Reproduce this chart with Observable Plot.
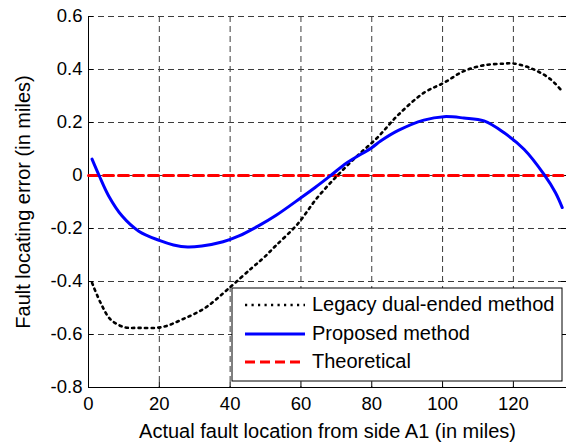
<!DOCTYPE html>
<html>
<head>
<meta charset="utf-8">
<script src="https://cdn.jsdelivr.net/npm/d3@7"></script>
<script src="https://cdn.jsdelivr.net/npm/@observablehq/plot@0.6"></script>
<style>
  html, body { margin: 0; padding: 0; background: #fff; }
  svg { display: block; }
</style>
</head>
<body>
<div id="chart"></div>
<script>
const xTicks = [0, 20, 40, 60, 80, 100, 120];
const yTicks = [-0.8, -0.6, -0.4, -0.2, 0, 0.2, 0.4, 0.6];
const xLabel = "Actual fault location from side A1 (in miles)";
const yLabel = "Fault locating error (in miles)";
const seriesNames = ["Legacy dual-ended method", "Proposed method", "Theoretical"];

const legacyX = [1, 3.4, 6.2, 10, 14, 20.8, 26.5, 33, 39.6, 46.2, 49.5, 52.8, 59, 64.6, 70.3, 75.9, 81.6, 87.2, 94.7, 100.4, 106, 111.7, 117.3, 120, 125.8, 130.5, 133.3];
const legacyY = [-0.405, -0.48, -0.543, -0.572, -0.575, -0.572, -0.543, -0.499, -0.426, -0.348, -0.31, -0.266, -0.184, -0.084, 0, 0.074, 0.143, 0.225, 0.312, 0.35, 0.394, 0.416, 0.422, 0.423, 0.4, 0.363, 0.325];

const proposedX = [1, 3, 5.7, 9.5, 14.2, 20, 24, 28, 32, 38, 42.5, 48, 53, 60, 64, 68.4, 73, 80, 82.5, 87.5, 94.7, 100.4, 106, 111.7, 117.3, 123, 128.6, 131.9, 133.8];
const proposedY = [0.062, 0, -0.077, -0.153, -0.21, -0.245, -0.262, -0.27, -0.266, -0.25, -0.228, -0.19, -0.15, -0.084, -0.045, 0, 0.048, 0.105, 0.13, 0.17, 0.209, 0.222, 0.217, 0.206, 0.162, 0.099, 0.005, -0.065, -0.121];

const theoX = [0, 134];
const theoY = [0, 0];

const legacy = legacyX.map((x, i) => ({x, y: legacyY[i]}));
const proposed = proposedX.map((x, i) => ({x, y: proposedY[i]}));
const theo = theoX.map((x, i) => ({x, y: theoY[i]}));

const font = "'Liberation Sans', Arial, Helvetica, sans-serif";
const gridStyle = {stroke: "#3c3c3c", strokeOpacity: 1, strokeWidth: 1, strokeDasharray: "6 4"};

const chart = Plot.plot({
  width: 568,
  height: 445,
  marginLeft: 88,
  marginRight: 2,
  marginTop: 16,
  marginBottom: 58,
  style: {fontFamily: font, fontSize: "18px", background: "white", color: "black", overflow: "visible"},
  x: {domain: [0, 135], axis: null},
  y: {domain: [-0.8, 0.6], axis: null},
  marks: [
    Plot.ruleX(xTicks, {x: d => d, ...gridStyle}),
    Plot.ruleY(yTicks, {y: d => d, ...gridStyle}),
    Plot.ruleX([0], {x: d => d, stroke: "black", strokeWidth: 1}),
    Plot.ruleY([-0.8], {y: d => d, stroke: "black", strokeWidth: 1}),
    Plot.tickX(xTicks, {x: d => d, insetTop: 366, stroke: "black"}),
    Plot.tickY(yTicks, {y: d => d, insetRight: 473, stroke: "black"}),
    Plot.tickY(yTicks, {y: d => d, insetLeft: 473, stroke: "black"}),
    Plot.text(xTicks, {x: d => d, text: d => String(d), frameAnchor: "bottom", textAnchor: "middle", lineAnchor: "middle", dy: 17, fontSize: 18.5, fill: "black"}),
    Plot.text(yTicks, {y: d => d, text: d => String(d), frameAnchor: "left", textAnchor: "end", lineAnchor: "middle", dx: -6, fontSize: 18.5, fill: "black"}),
    Plot.line(theo, {x: "x", y: "y", stroke: "#ff0000", strokeWidth: 3, strokeDasharray: "10 5"}),
    Plot.line(legacy, {x: "x", y: "y", stroke: "black", strokeWidth: 2.6, strokeDasharray: "2.2 4.3", curve: "catmull-rom"}),
    Plot.line(proposed, {x: "x", y: "y", stroke: "#0000ff", strokeWidth: 3, curve: "catmull-rom"}),
    Plot.text([xLabel], {text: d => d, frameAnchor: "bottom", textAnchor: "middle", lineAnchor: "middle", dy: 43.6, fontSize: 20, fill: "black"}),
    Plot.text([yLabel], {text: d => d, frameAnchor: "left", textAnchor: "middle", lineAnchor: "middle", rotate: -90, dx: -65, fontSize: 20, fill: "black"})
  ]
});

// Legend inside the plot area
const svg = d3.select(chart);
const lg = svg.append("g").attr("font-family", font).attr("font-size", 20).attr("text-anchor", "start");
lg.append("rect").attr("x", 232).attr("y", 288).attr("width", 330).attr("height", 93)
  .attr("fill", "white").attr("stroke", "black").attr("stroke-width", 1);
const legendStyles = [
  {stroke: "black", width: 2.6, dash: "2.2 4.3"},
  {stroke: "#0000ff", width: 3, dash: null},
  {stroke: "#ff0000", width: 3, dash: "10 5"}
];
const rowY = [305, 334, 362];
seriesNames.forEach((name, i) => {
  const s = legendStyles[i];
  const ln = lg.append("line").attr("x1", 245).attr("x2", 305).attr("y1", rowY[i]).attr("y2", rowY[i])
    .attr("stroke", s.stroke).attr("stroke-width", s.width);
  if (s.dash) ln.attr("stroke-dasharray", s.dash);
  lg.append("text").attr("x", 312).attr("y", rowY[i]).attr("dy", "0.32em").attr("fill", "black")
    .attr("text-anchor", "start").text(name);
});

document.getElementById("chart").appendChild(chart);
</script>
</body>
</html>
